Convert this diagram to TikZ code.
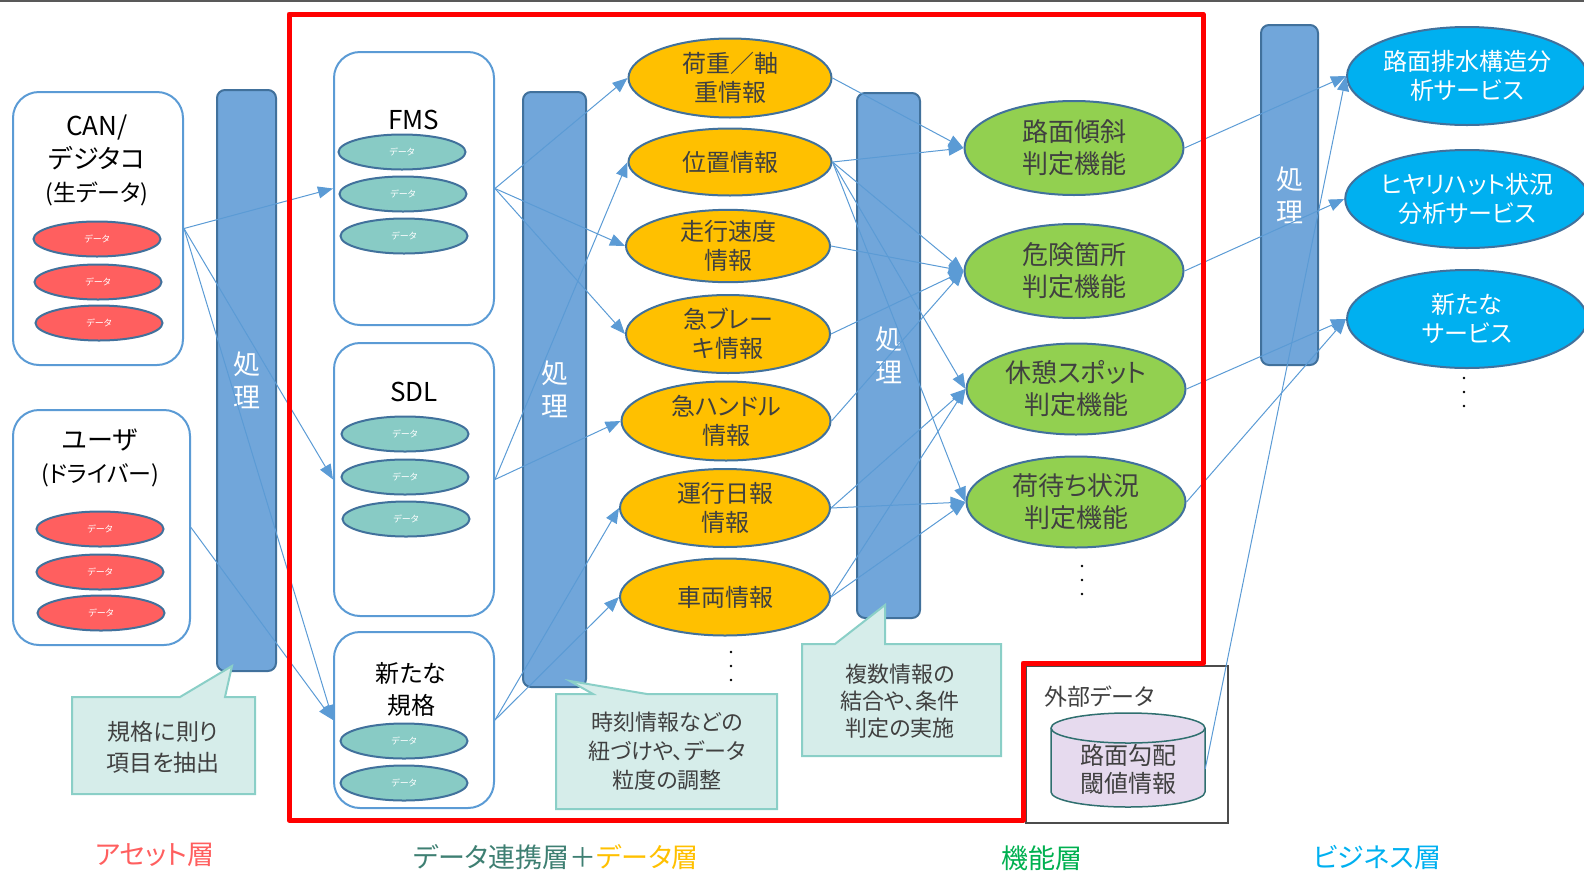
\documentclass[tikz,border=0pt]{standalone}
\usepackage{fontspec}
\setmainfont{Noto Sans CJK JP}[RawFeature=+palt]
\usetikzlibrary{arrows.meta,shapes.geometric}
\definecolor{boxblue}{HTML}{5B9BD5}
\definecolor{procfill}{HTML}{71A6DA}
\definecolor{darkedge}{HTML}{41719C}
\definecolor{datared}{HTML}{FF5F5F}
\definecolor{datateal}{HTML}{88CBC5}
\definecolor{infoyellow}{HTML}{FFC000}
\definecolor{funcgreen}{HTML}{92D050}
\definecolor{servblue}{HTML}{00B0F0}
\definecolor{notefill}{HTML}{D6EDEA}
\definecolor{noteedge}{HTML}{8ACFC7}
\definecolor{txtgray}{HTML}{404040}
\definecolor{cylfill}{HTML}{E6DAEE}
\definecolor{cyledge}{HTML}{2F6F6F}
\definecolor{linkteal}{HTML}{3E7F72}
\definecolor{funclabel}{HTML}{00B050}

\begin{document}
\begin{tikzpicture}[x=1pt,y=-1pt,
  srcbox/.style={draw=boxblue,line width=2pt,rounded corners=26pt,inner sep=0pt},
  procbar/.style={draw=darkedge,fill=procfill,line width=2pt,rounded corners=8pt,
    text=white,align=center,inner sep=0pt,font=\fontsize{27}{33}\selectfont},
  datum/.style={ellipse,draw=darkedge,line width=2pt,minimum width=127pt,
    minimum height=35pt,inner sep=0pt,text=white,font=\fontsize{9}{10}\selectfont},
  info/.style={ellipse,draw=darkedge,fill=infoyellow,line width=2pt,inner sep=0pt,
    align=center,text=txtgray,font=\fontsize{24}{29}\selectfont},
  func/.style={ellipse,draw=darkedge,fill=funcgreen,line width=2pt,inner sep=0pt,
    minimum width=219pt,align=center,text=txtgray,font=\fontsize{26}{32}\selectfont},
  serv/.style={ellipse,draw=darkedge,fill=servblue,line width=2pt,inner sep=0pt,
    minimum width=240pt,minimum height=98pt,align=center,text=white,
    font=\fontsize{24}{29}\selectfont},
  note/.style={draw=noteedge,fill=notefill,line width=2pt},
  notetext/.style={align=center,text=txtgray,font=\fontsize{22}{29}\selectfont},
  title/.style={align=center,font=\fontsize{26}{33}\selectfont},
  layer/.style={font=\fontsize{27}{30}\selectfont},
  link/.style={draw=boxblue,line width=1pt,-{Triangle[length=15pt,width=12pt]}}]
  \useasboundingbox (0,0) rectangle (1584,876);
  \draw[line width=2pt,black!65] (0,1) -- (1584,1);

  \node[procbar,minimum width=59pt,minimum height=581pt] (p1) at (246.5,380.5) {処\\理};
  \node[procbar,minimum width=63pt,minimum height=595pt] (p2) at (554.5,389.5) {処\\理};
  \node[procbar,minimum width=63pt,minimum height=525pt] (p3) at (888.5,355.5) {処\\理};
  \node[procbar,minimum width=57pt,minimum height=340pt] (p4) at (1289.5,195) {処\\理};

  \node[srcbox,minimum width=170pt,minimum height=273pt] (can) at (98,228.5) {};
  \node[srcbox,minimum width=177pt,minimum height=235pt] (user) at (101.5,527.5) {};
  \node[srcbox,minimum width=160pt,minimum height=273pt] (fms) at (414,188.5) {};
  \node[srcbox,minimum width=160pt,minimum height=273pt] (sdl) at (414,479.5) {};
  \node[srcbox,minimum width=160pt,minimum height=176pt] (newstd) at (414,720) {};
  \node[title] (cantitle) at (97,160) {CAN/\\デジタコ\\{\fontsize{23}{33}\selectfont(生データ)}};
  \node[title] (usertitle) at (100,458) {ユーザ\\{\fontsize{23}{33}\selectfont(ドライバー)}};
  \node[title] (fmstitle) at (414,120) {FMS};
  \node[title] (sdltitle) at (414,392) {SDL};
  \node[title,font=\fontsize{24}{32}\selectfont] (newtitle) at (411,689) {新たな\\規格};
  \foreach \x/\y [count=\i] in {97/239,98/282,99/323,100/529,100/572,101/613}
    \node[datum,fill=datared] (red\i) at (\x,\y) {データ};
  \foreach \x/\y [count=\i] in {402/152,403/194,404/236,405/434,405/477,406/519,404/741,404/783}
    \node[datum,fill=datateal] (teal\i) at (\x,\y) {データ};

  \foreach \n/\x/\y/\w/\h/\t in {y1/730/78/203/79/{荷重／軸\\重情報},
      y2/730/162/203/67/{位置情報}, y3/728/246/204/68/{走行速度\\情報},
      y4/728/334/204/78/{急ブレー\\キ情報}, y5/726/421/209/79/{急ハンドル\\情報},
      y6/725/508/210/78/{運行日報\\情報}, y7/725/597/210/77/{車両情報}}
    \node[info,minimum width=\w pt,minimum height=\h pt] (\n) at (\x,\y) {\t};
  \foreach \n/\x/\y/\h/\t in {g1/1074/148/94/{路面傾斜\\判定機能},
      g2/1074/271/94/{危険箇所\\判定機能}, g3/1076/389/91/{休憩スポット\\判定機能},
      g4/1076/502/91/{荷待ち状況\\判定機能}}
    \node[func,minimum height=\h pt] (\n) at (\x,\y) {\t};
  \foreach \n/\y/\t in {b1/76/{路面排水構造分\\析サービス},
      b2/199/{ヒヤリハット状況\\分析サービス}, b3/319/{新たな\\サービス}}
    \node[serv] (\n) at (1467,\y) {\t};
  \foreach \x/\y in {731/652,1082/566,1464/378}
    \foreach \k in {0,1,2}
      \fill[black] (\x,\y+\k*14) circle (1.4pt);

  \draw[line width=2pt,black!70] (1026,666) rectangle (1228,823);
  \node[anchor=west,text=txtgray,font=\fontsize{23}{28}\selectfont] (ext) at (1041,697) {外部データ};
  \filldraw[fill=cylfill,draw=cyledge,line width=1.5pt] (1051,728) -- (1051,792)
    arc[start angle=180,end angle=360,x radius=77pt,y radius=15pt] -- (1205,728)
    arc[start angle=0,end angle=180,x radius=77pt,y radius=15pt] -- cycle;
  \draw[draw=cyledge,line width=1.5pt] (1051,728)
    arc[start angle=180,end angle=360,x radius=77pt,y radius=15pt];
  \node[minimum width=154pt,inner sep=0pt,align=center,text=txtgray,
    font=\fontsize{24}{28}\selectfont] (thr) at (1128,769) {路面勾配\\閾値情報};

  \foreach \a/\b in {can/fms,can/sdl,can/newstd,user/newstd,fms/y1,fms/y3,fms/y4,
      sdl/y2,sdl/y5,newstd/y6,newstd/y7,y1/g1,y2/g1,y2/g2,y2/g3,y2/g4,y3/g2,y4/g2,
      y5/g2,y6/g3,y6/g4,y7/g3,y7/g4,g1/b1,g2/b2,g3/b3,g4/b3,thr/b1}
    \draw[link] (\a.east) -- (\b.west);

  \draw[note] (72,697) -- (180,697) -- (232,666) -- (225,697) -- (255,697)
    -- (255,794) -- (72,794) -- cycle;
  \node[notetext,font=\fontsize{23}{31}\selectfont] (note1) at (163,747) {規格に則り\\項目を抽出};
  \draw[note] (556,694) -- (593,694) -- (570,681) -- (647,694) -- (777,694)
    -- (777,809) -- (556,809) -- cycle;
  \node[notetext] (note2) at (667,751) {時刻情報などの\\紐づけや、データ\\粒度の調整};
  \draw[note] (802,644) -- (835,644) -- (885,605) -- (885,644) -- (1001,644)
    -- (1001,756) -- (802,756) -- cycle;
  \node[notetext,font=\fontsize{22}{27}\selectfont] (note3) at (900,701) {複数情報の\\結合や、条件\\判定の実施};

  \draw[red,line width=5pt,line join=round] (289,14) -- (1203,14) -- (1203,663)
    -- (1023,663) -- (1023,820) -- (289,820) -- cycle;

  \node[layer,text=datared] (asset) at (155,855) {アセット層};
  \node[layer,text=linkteal] (datalayer) at (556,857)
    {データ連携層＋\textcolor{infoyellow}{データ層}};
  \node[layer,text=funclabel] (funclayer) at (1042,858) {機能層};
  \node[layer,text=servblue] (bizlayer) at (1377,857) {ビジネス層};
\end{tikzpicture}
\end{document}
